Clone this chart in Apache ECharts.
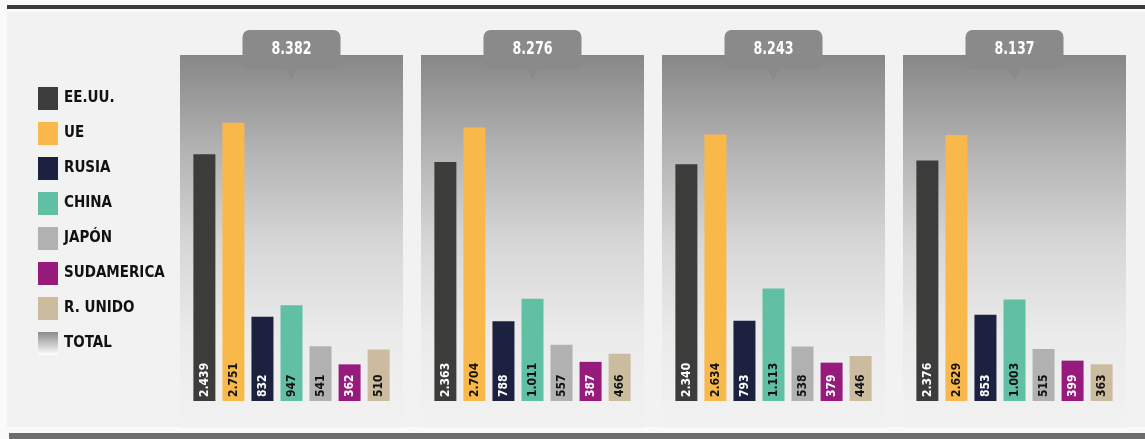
<!DOCTYPE html>
<html><head><meta charset="utf-8">
<script src="https://cdn.jsdelivr.net/npm/echarts@6/dist/echarts.min.js"></script>
<style>html,body{margin:0;padding:0;background:#fafafa}#c{width:1145px;height:439px}</style>
</head><body><div id="c"></div>
<script>
// ---- data ----
const years = ['2020', '2021', '2022', '2023'];
const countryNames = ['EE.UU.', 'UE', 'RUSIA', 'CHINA', 'JAPÓN', 'SUDAMERICA', 'R. UNIDO'];
const eeuu       = [2439, 2363, 2340, 2376];
const ue         = [2751, 2704, 2634, 2629];
const rusia      = [832, 788, 793, 853];
const china      = [947, 1011, 1113, 1003];
const japon      = [541, 557, 538, 515];
const sudamerica = [362, 387, 379, 399];
const runido     = [510, 466, 446, 363];
const totals     = [8382, 8276, 8243, 8137];
const totalName  = 'TOTAL';

// ---- styling ----
const F = "'DejaVu Sans Condensed','Liberation Sans',sans-serif";
const colors = ['#3c3c3b', '#f9b94a', '#1c2140', '#61bfa3', '#b1b1b1', '#971b7c', '#cbbb9f'];
const labelColors = ['#fff', '#111', '#fff', '#111', '#111', '#fff', '#111'];
const valueSets = [eeuu, ue, rusia, china, japon, sudamerica, runido];

function fmt(n) { return String(n).replace(/\B(?=(\d{3})+(?!\d))/g, '.'); }

const panelGrad = () => new echarts.graphic.LinearGradient(0, 0, 0, 1, [
  { offset: 0, color: '#878787' },
  { offset: 0.25, color: '#b2b2b2' },
  { offset: 0.5, color: '#d6d6d6' },
  { offset: 0.75, color: '#ebebeb' },
  { offset: 1, color: '#f2f2f2' }
]);
const legendGrad = new echarts.graphic.LinearGradient(0, 0, 0, 1, [
  { offset: 0, color: '#8a8a8a' },
  { offset: 1, color: '#ffffff' }
]);

const chart = echarts.init(document.getElementById('c'), null, { renderer: 'canvas' });

const barSeries = countryNames.map((name, k) => ({
  name: name,
  type: 'bar',
  z: 3,
  barWidth: 22,
  barGap: '32%',
  itemStyle: { color: colors[k] },
  label: {
    show: true,
    position: 'insideBottom',
    rotate: 90,
    align: 'left',
    verticalAlign: 'middle',
    distance: 4,
    formatter: p => fmt(p.value),
    color: labelColors[k],
    fontFamily: F,
    fontWeight: 'bold',
    fontSize: 12
  },
  data: valueSets[k]
}));

const totalSeries = {
  name: totalName,
  type: 'custom',
  z: 1,
  itemStyle: { color: legendGrad },
  encode: { x: 0 },
  data: years.map((y, i) => [i, totals[i]]),
  renderItem: function (params, api) {
    const cx = api.coord([api.value(0), 0])[0];
    const band = api.size([1, 0])[0];
    const pw = band * 223 / 241;
    const cs = params.coordSys;
    const top = cs.y;
    const bottom = cs.y + cs.height + 27;
    return {
      type: 'group',
      children: [
        { type: 'rect', shape: { x: cx - pw / 2, y: top, width: pw, height: bottom - top }, style: { fill: panelGrad() } },
        { type: 'rect', shape: { x: cx - 49, y: top - 25, width: 98, height: 39, r: 7 }, style: { fill: '#8a8a8a' } },
        { type: 'polygon', shape: { points: [[cx - 6, top + 14], [cx + 6, top + 14], [cx, top + 25]] }, style: { fill: '#8a8a8a' } },
        { type: 'text', x: cx, y: top - 5.5, scaleX: 0.78, style: { text: fmt(api.value(1)), fill: '#ffffff', fontFamily: F, fontWeight: 'bold', fontSize: 18, align: 'center', verticalAlign: 'middle' } }
      ]
    };
  }
};

chart.setOption({
  backgroundColor: '#fafafa',
  animation: false,
  graphic: [
    { type: 'rect', z: -10, shape: { x: 7, y: 12, width: 1138, height: 415 }, style: { fill: '#f2f2f2' } },
    { type: 'rect', z: -10, shape: { x: 7, y: 5, width: 1138, height: 4 }, style: { fill: '#3b3b3b' } },
    { type: 'rect', z: -10, shape: { x: 9, y: 433, width: 1136, height: 6 }, style: { fill: '#6d6d6d' } }
  ],
  legend: {
    orient: 'vertical',
    left: 33,
    top: 82,
    icon: 'rect',
    itemWidth: 20,
    itemHeight: 23,
    itemGap: 12,
    selectedMode: false,
    textStyle: { fontFamily: F, fontWeight: 'bold', fontSize: 15, color: '#111', padding: [0, 0, 0, 1] },
    data: countryNames.concat([{ name: totalName, itemStyle: { color: legendGrad } }])
  },
  grid: { left: 171, width: 964, top: 55, bottom: 38 },
  xAxis: {
    type: 'category',
    data: years,
    axisLine: { show: false },
    axisTick: { show: false },
    axisLabel: { margin: 9, fontFamily: F, fontWeight: 'bold', fontSize: 14, color: '#111' }
  },
  yAxis: {
    type: 'value',
    min: 0,
    max: 3420,
    show: false,
    splitLine: { show: false }
  },
  series: [totalSeries].concat(barSeries)
});
</script>
</body></html>
